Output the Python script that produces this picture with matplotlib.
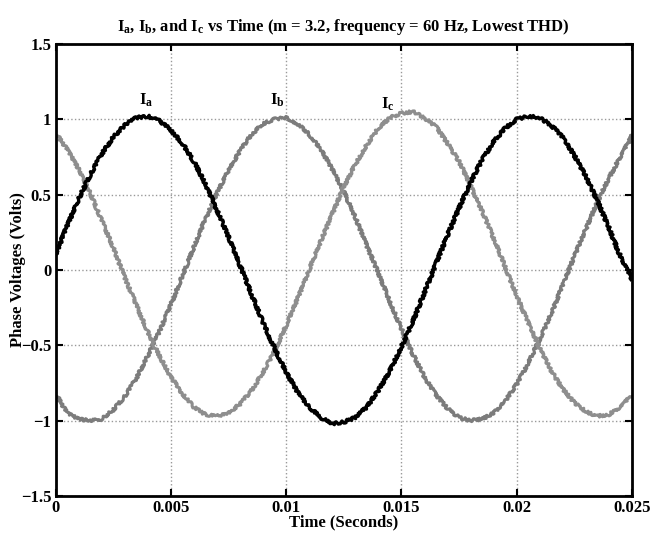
import matplotlib
matplotlib.use("Agg")
import matplotlib.pyplot as plt

plt.rcParams['font.family'] = ['Liberation Serif', 'DejaVu Serif']
plt.rcParams['font.weight'] = 'bold'
plt.rcParams['mathtext.fontset'] = 'custom'
plt.rcParams['mathtext.rm'] = 'Liberation Serif:bold'
plt.rcParams['mathtext.it'] = 'Liberation Serif:bold'
plt.rcParams['mathtext.bf'] = 'Liberation Serif:bold'

# sample times (s), one every 0.5 ms
t = [i * 0.0005 for i in range(51)]

# phase currents
ia = [0.10, 0.29, 0.47, 0.63, 0.77, 0.88, 0.96, 1.01, 1.02, 0.99,
      0.93, 0.84, 0.72, 0.57, 0.40, 0.22, 0.03, -0.16, -0.35, -0.52,
      -0.68, -0.81, -0.91, -0.98, -1.02, -1.01, -0.98, -0.91, -0.80, -0.67,
      -0.51, -0.34, -0.15, 0.04, 0.23, 0.41, 0.58, 0.73, 0.85, 0.94,
      1.00, 1.02, 1.01, 0.96, 0.88, 0.76, 0.62, 0.46, 0.28, 0.09, -0.06]
ib = [-0.82, -0.95, -0.99, -1.00, -0.99, -0.93, -0.84, -0.72, -0.57, -0.41,
      -0.23, -0.04, 0.15, 0.34, 0.51, 0.66, 0.79, 0.90, 0.97, 1.00,
      1.01, 0.97, 0.90, 0.80, 0.67, 0.52, 0.35, 0.16, -0.02, -0.21,
      -0.39, -0.56, -0.71, -0.83, -0.92, -0.98, -1.00, -0.99, -0.95, -0.87,
      -0.76, -0.62, -0.46, -0.29, -0.10, 0.09, 0.27, 0.45, 0.61, 0.75, 0.89]
ic = [0.91, 0.80, 0.67, 0.51, 0.33, 0.15, -0.05, -0.23, -0.41, -0.57,
      -0.71, -0.82, -0.91, -0.96, -0.97, -0.95, -0.89, -0.80, -0.68, -0.54,
      -0.37, -0.19, 0.00, 0.19, 0.37, 0.55, 0.70, 0.83, 0.94, 1.01,
      1.04, 1.05, 1.01, 0.95, 0.84, 0.72, 0.56, 0.39, 0.21, 0.02,
      -0.17, -0.35, -0.52, -0.67, -0.79, -0.88, -0.94, -0.97, -0.96, -0.91, -0.83]

xticks = [0, 0.005, 0.01, 0.015, 0.02, 0.025]
xticklabels = ['0', '0.005', '0.01', '0.015', '0.02', '0.025']
yticks = [-1.5, -1, -0.5, 0, 0.5, 1, 1.5]
yticklabels = ['\u22121.5', '\u22121', '\u22120.5', '0', '0.5', '1', '1.5']

# curve name labels: (text, t, value)
names = [('I$_a$', 0.0036, 1.10), ('I$_b$', 0.0093, 1.10), ('I$_c$', 0.0141, 1.07)]

fig = plt.figure(figsize=(6.61, 5.35), dpi=100)
ax = fig.add_axes([0.084, 0.073, 0.872, 0.845])

for y, c, lw in [(ib, '#7c7c7c', 2.2), (ic, '#8e8e8e', 2.2), (ia, 'black', 2.4)]:
    ln, = ax.plot(t, y, color=c, lw=lw)
    ln.set_sketch_params(1.4, 3.0, 4.0)

for s, x, y in names:
    ax.text(x, y, s, fontsize=12, fontweight='bold')

ax.set_xlim(0, 0.025)
ax.set_ylim(-1.5, 1.5)
ax.set_xticks(xticks)
ax.set_xticklabels(xticklabels)
ax.set_yticks(yticks)
ax.set_yticklabels(yticklabels)
ax.tick_params(direction='in', top=True, right=True, length=5, width=1.5,
               labelsize=12, pad=3)
for sp in ax.spines.values():
    sp.set_linewidth(2)
ax.grid(True, linestyle=':', color='#999999', linewidth=1)

ax.set_title('I$_a$, I$_b$, and I$_c$ vs Time (m = 3.2, frequency = 60 Hz, Lowest THD)',
             fontsize=12, fontweight='bold', pad=9)
ax.set_xlabel('Time (Seconds)', fontsize=12, fontweight='bold', labelpad=-1)
ax.set_ylabel('Phase Voltages (Volts)', fontsize=12, fontweight='bold', labelpad=-4)

fig.savefig('out.png', dpi=100)
